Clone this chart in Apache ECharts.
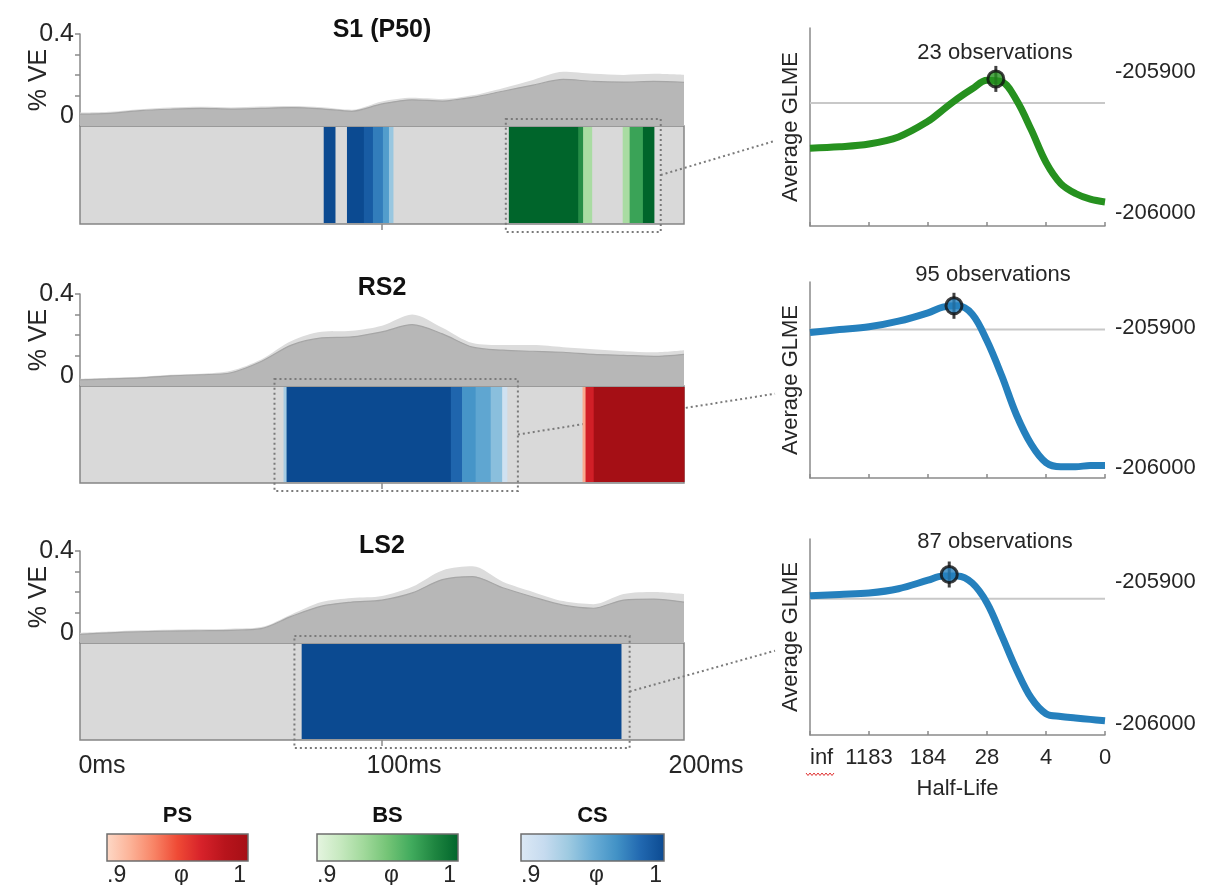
<!DOCTYPE html>
<html>
<head>
<meta charset="utf-8">
<script src="https://cdn.jsdelivr.net/npm/echarts@6/dist/echarts.min.js"></script>
<style>
html, body { margin: 0; padding: 0; background: #fff; }
#fig { width: 1212px; height: 885px; }
</style>
</head>
<body>
<div id="fig"></div>
<script>
// ---- % variance explained traces (ms) ----
var timeMs = [0, 10, 20, 30, 40, 50, 60, 70, 80, 90, 100, 110, 120, 130, 140, 150, 160, 170, 180, 190, 200]
var veS1 = [0.008, 0.012, 0.025, 0.032, 0.036, 0.033, 0.036, 0.040, 0.034, 0.022, 0.058, 0.078, 0.072, 0.090, 0.120, 0.150, 0.178, 0.168, 0.165, 0.168, 0.163]
var veS1Upper = [0.016, 0.020, 0.032, 0.040, 0.044, 0.041, 0.045, 0.048, 0.042, 0.030, 0.070, 0.088, 0.082, 0.100, 0.135, 0.175, 0.215, 0.205, 0.200, 0.205, 0.200]
var veRS2 = [-0.020, -0.015, -0.010, 0.000, 0.005, 0.015, 0.070, 0.150, 0.185, 0.190, 0.215, 0.250, 0.205, 0.140, 0.125, 0.120, 0.115, 0.105, 0.100, 0.095, 0.105]
var veRS2Upper = [-0.015, -0.010, -0.005, 0.005, 0.010, 0.025, 0.080, 0.170, 0.215, 0.220, 0.245, 0.300, 0.235, 0.160, 0.150, 0.150, 0.140, 0.130, 0.120, 0.115, 0.125]
var veLS2 = [-0.008, 0.000, 0.005, 0.008, 0.010, 0.012, 0.020, 0.080, 0.130, 0.150, 0.160, 0.195, 0.260, 0.275, 0.220, 0.175, 0.135, 0.120, 0.160, 0.165, 0.150]
var veLS2Upper = [0.000, 0.006, 0.012, 0.015, 0.017, 0.020, 0.028, 0.090, 0.150, 0.170, 0.180, 0.225, 0.305, 0.325, 0.250, 0.200, 0.155, 0.140, 0.190, 0.200, 0.190]
var veTickLabels = [0, 0.4]
var timeLabelPos = [0, 100, 200]
var timeLabels = ['0ms', '100ms', '200ms']

// ---- phi strips: [startMs, endMs, phi] ----
var stripS1CS = [[80.7, 84.4, 1.0], [88.4, 94.0, 1.0], [94.0, 97.0, 0.99], [97.0, 100.3, 0.975], [100.3, 102.3, 0.96], [102.3, 103.6, 0.935]]
var stripS1BS = [[142.0, 165.0, 1.0], [165.0, 166.6, 0.98], [166.6, 169.4, 0.93], [179.7, 182.0, 0.93], [182.0, 186.4, 0.97], [186.4, 190.0, 1.0]]
var stripRS2CS = [[67.4, 68.4, 0.93], [68.4, 122.8, 1.0], [122.8, 126.5, 0.985], [126.5, 131.0, 0.965], [131.0, 136.0, 0.955], [136.0, 139.8, 0.94], [139.8, 141.3, 0.91]]
var stripRS2PS = [[166.4, 167.4, 0.92], [167.4, 170.1, 0.97], [170.1, 200.0, 1.0]]
var stripLS2CS = [[73.4, 179.1, 1.0]]
// dotted selection windows [startMs, endMs]
var windowS1 = [141.0, 192.3]
var windowRS2 = [64.4, 145.0]
var windowLS2 = [71.0, 182.0]

// ---- half-life fits ----
var halfLifeLabels = ['inf', '1183', '184', '28', '4', '0']
var halfLifePos = [0, 0.5, 1, 1.5, 2, 2.25, 2.5, 2.75, 3, 3.25, 3.5, 3.75, 4, 4.25, 4.5, 4.75, 5]
var glmeS1 = [-205954, -205953, -205951, -205946, -205935, -205927, -205919, -205912, -205906, -205907, -205920, -205941, -205964, -205979, -205986, -205990, -205992]
var glmeRS2 = [-205903, -205901, -205899, -205895, -205889, -205885, -205884, -205890, -205909, -205934, -205962, -205983, -205996, -205999, -205999, -205998, -205998]
var glmeLS2 = [-205910, -205909, -205908, -205905, -205899, -205896, -205896, -205901, -205915, -205938, -205962, -205982, -205993, -205995, -205996, -205997, -205998]
var peakS1 = [3.15, -205905]
var peakRS2 = [2.44, -205884]
var peakLS2 = [2.36, -205895]
var refS1 = -205922
var refRS2 = -205901
var refLS2 = -205912
var glmeTickLabels = [-205900, -206000]
var obsCounts = [23, 95, 87]

var SANS = '"Liberation Sans", Arial, sans-serif'
var TXT = '#262626'
var AXC = '#8a8a8a'

var colorMaps = {
    PS: ['#fdd9c7', '#fcb398', '#f88466', '#ef4a35', '#d7222a', '#b8141c', '#a50f15'],
    BS: ['#e6f5e1', '#c7e9c0', '#a1d99b', '#74c476', '#41ab5d', '#1e8540', '#00652b'],
    CS: ['#dce9f5', '#c6dbef', '#9ecae1', '#6baed6', '#4292c6', '#2168b0', '#0b4a91']
}

function hexRgb(h) {
    return [parseInt(h.substr(1, 2), 16), parseInt(h.substr(3, 2), 16), parseInt(h.substr(5, 2), 16)]
}
function colorAt(stops, phi) {
    var t = Math.max(0, Math.min(1, (phi - 0.9) / 0.1)) * (stops.length - 1)
    var i = Math.min(Math.floor(t), stops.length - 2)
    var f = t - i
    var a = hexRgb(stops[i]), b = hexRgb(stops[i + 1])
    return 'rgb(' + [0, 1, 2].map(function (j) { return Math.round(a[j] + (b[j] - a[j]) * f) }).join(',') + ')'
}
function zip(xs, ys) {
    return xs.map(function (x, i) { return [x, ys[i]] })
}

// layout of the three rows
var boxTop = [126, 386, 643]
var boxH = [98, 97, 97]
var veH = 92
var rightTop = [28, 282, 539]
var rightH = [198, 196, 196]
var glmeRange = [[-206009, -205869], [-206007, -205867], [-206008, -205870]]

var panels = [
    { title: 'S1 (P50)', ve: veS1, veUp: veS1Upper, strips: [[stripS1CS, 'CS'], [stripS1BS, 'BS']], win: windowS1, glme: glmeS1, peak: peakS1, ref: refS1, color: '#26911f' },
    { title: 'RS2', ve: veRS2, veUp: veRS2Upper, strips: [[stripRS2CS, 'CS'], [stripRS2PS, 'PS']], win: windowRS2, glme: glmeRS2, peak: peakRS2, ref: refRS2, color: '#2580bd' },
    { title: 'LS2', ve: veLS2, veUp: veLS2Upper, strips: [[stripLS2CS, 'CS']], win: windowLS2, glme: glmeLS2, peak: peakLS2, ref: refLS2, color: '#2580bd' }
]

var grid = [], xAxis = [], yAxis = [], series = []
var leftGrids = [], boxGrids = [], rightGrids = []

panels.forEach(function (p, k) {
    leftGrids.push({ left: 80, width: 604, top: boxTop[k] - veH, height: veH })
    boxGrids.push({ left: 80, width: 604, top: boxTop[k], height: boxH[k], show: true, backgroundColor: '#d9d9d9', borderColor: '#858585', borderWidth: 1.5 })
    rightGrids.push({ left: 810, right: 107, top: rightTop[k], height: rightH[k] })
})
grid = leftGrids.concat(boxGrids, rightGrids)

// x axes: 0-2 area, 3-5 strip, 6-8 half-life
panels.forEach(function (p, k) {
    xAxis.push({ gridIndex: k, type: 'value', min: 0, max: 200, show: false })
})
panels.forEach(function (p, k) {
    xAxis.push({
        gridIndex: 3 + k, type: 'value', min: 0, max: 200,
        axisLine: { show: false },
        axisTick: { show: true, customValues: [100], length: 6, lineStyle: { color: AXC, width: 1.5 } },
        axisLabel: {
            show: k === 2, customValues: timeLabelPos,
            formatter: function (v) { return timeLabels[timeLabelPos.indexOf(v)] },
            fontFamily: SANS, fontSize: 25, color: TXT, margin: 14, align: 'center', padding: [0, 0, 0, 44]
        },
        splitLine: { show: false }
    })
})
panels.forEach(function (p, k) {
    xAxis.push({
        gridIndex: 6 + k, type: 'value', min: 0, max: 5, interval: 1,
        axisLine: { onZero: false, lineStyle: { color: AXC, width: 1.5 } },
        axisTick: { inside: true, length: 4, lineStyle: { color: AXC, width: 1.5 } },
        axisLabel: {
            show: k === 2, formatter: function (v) { return halfLifeLabels[v] },
            fontFamily: SANS, fontSize: 22, color: TXT, margin: 12, alignMinLabel: 'left'
        },
        splitLine: { show: false },
        name: k === 2 ? 'Half-Life' : '', nameLocation: 'middle', nameGap: 43,
        nameTextStyle: { fontFamily: SANS, fontSize: 22, color: TXT }
    })
})

// y axes: 0-2 area, 3-5 strip, 6-8 left GLME, 9-11 right GLME labels
panels.forEach(function (p, k) {
    yAxis.push({
        gridIndex: k, type: 'value', min: -0.05, max: 0.4,
        axisLine: { show: true, lineStyle: { color: AXC, width: 1.5 } },
        axisTick: { show: true, customValues: [0.1, 0.2, 0.3, 0.4], length: 5, lineStyle: { color: AXC, width: 1.5 } },
        axisLabel: { customValues: veTickLabels, formatter: function (v) { return String(v) }, fontFamily: SANS, fontSize: 25, color: TXT, margin: 6 },
        splitLine: { show: false },
        name: '% VE', nameLocation: 'middle', nameGap: 28, nameMoveOverlap: false,
        nameTextStyle: { fontFamily: SANS, fontSize: 25, color: TXT }
    })
})
panels.forEach(function (p, k) {
    yAxis.push({ gridIndex: 3 + k, type: 'value', min: 0, max: 1, show: false })
})
panels.forEach(function (p, k) {
    yAxis.push({
        gridIndex: 6 + k, type: 'value', position: 'left', min: glmeRange[k][0], max: glmeRange[k][1],
        axisLine: { show: true, lineStyle: { color: AXC, width: 1.5 } },
        axisTick: { show: false }, axisLabel: { show: false }, splitLine: { show: false },
        name: 'Average GLME', nameLocation: 'middle', nameGap: 8, nameMoveOverlap: false,
        nameTextStyle: { fontFamily: SANS, fontSize: 22, color: TXT }
    })
})
panels.forEach(function (p, k) {
    yAxis.push({
        gridIndex: 6 + k, type: 'value', position: 'right', min: glmeRange[k][0], max: glmeRange[k][1],
        axisLine: { show: false }, axisTick: { show: false }, splitLine: { show: false },
        axisLabel: { customValues: glmeTickLabels, formatter: function (v) { return String(v) }, fontFamily: SANS, fontSize: 22, color: TXT, margin: 10 }
    })
})

function stripRender(mapName) {
    return function (params, api) {
        var a = api.coord([api.value(0), 1])
        var b = api.coord([api.value(1), 0])
        return {
            type: 'rect',
            shape: { x: a[0], y: a[1] + 1, width: b[0] - a[0] + 0.6, height: b[1] - a[1] - 2 },
            style: { fill: colorAt(colorMaps[mapName], api.value(2)) }
        }
    }
}
function windowRender(params, api) {
    var a = api.coord([api.value(0), 1])
    var b = api.coord([api.value(1), 0])
    return {
        type: 'rect',
        shape: { x: a[0], y: a[1] - 7, width: b[0] - a[0], height: b[1] - a[1] + 15 },
        style: { fill: 'none', stroke: '#7a7a7a', lineWidth: 2, lineDash: [2, 3] }
    }
}

panels.forEach(function (p, k) {
    // variance explained areas
    series.push({
        type: 'line', xAxisIndex: k, yAxisIndex: k, data: zip(timeMs, p.veUp), showSymbol: false, smooth: 0.3,
        lineStyle: { width: 0 }, areaStyle: { color: '#dcdcdc', opacity: 1, origin: 'start' }, z: 1
    })
    series.push({
        type: 'line', xAxisIndex: k, yAxisIndex: k, data: zip(timeMs, p.ve), showSymbol: false, smooth: 0.3,
        lineStyle: { width: 1.2, color: '#a6a6a6' }, areaStyle: { color: '#b7b7b7', opacity: 1, origin: 'start' }, z: 2
    })
    // phi strips
    p.strips.forEach(function (s) {
        series.push({ type: 'custom', xAxisIndex: 3 + k, yAxisIndex: 3 + k, data: s[0], renderItem: stripRender(s[1]), z: 3 })
    })
    series.push({ type: 'custom', xAxisIndex: 3 + k, yAxisIndex: 3 + k, data: [p.win], renderItem: windowRender, z: 4 })
    // half-life curve
    series.push({
        type: 'line', xAxisIndex: 6 + k, yAxisIndex: 6 + k, data: [[0, p.ref], [5, p.ref]], showSymbol: false,
        lineStyle: { color: '#c8c8c8', width: 2 }, z: 1
    })
    series.push({
        type: 'line', xAxisIndex: 6 + k, yAxisIndex: 6 + k, data: zip(halfLifePos, p.glme), smooth: 0.35, showSymbol: false,
        lineStyle: { color: p.color, width: 7 }, z: 3
    })
    series.push({
        type: 'scatter', xAxisIndex: 6 + k, yAxisIndex: 6 + k, data: [p.peak], symbol: 'rect', symbolSize: [3, 26],
        itemStyle: { color: '#111' }, z: 4
    })
    series.push({
        type: 'scatter', xAxisIndex: 6 + k, yAxisIndex: 6 + k, data: [p.peak], symbol: 'circle', symbolSize: 16,
        itemStyle: { color: p.color, borderColor: '#111', borderWidth: 3 }, z: 5
    })
})

// text + colour bars
var graphic = []
var titleY = [30, 288, 546]
var obsPos = [[995, 53], [993, 275], [995, 542]]
panels.forEach(function (p, k) {
    graphic.push({ type: 'text', id: 't' + k, x: 382, y: titleY[k], style: { text: p.title, font: 'bold 25px ' + SANS, fill: '#111', textAlign: 'center', textVerticalAlign: 'middle' } })
    graphic.push({ type: 'text', id: 'o' + k, x: obsPos[k][0], y: obsPos[k][1], style: { text: obsCounts[k] + ' observations', font: '22px ' + SANS, fill: TXT, textAlign: 'center', textVerticalAlign: 'middle' } })
})
var bars = [['PS', 107, 141], ['BS', 317, 141], ['CS', 521, 143]]
bars.forEach(function (b) {
    var stops = colorMaps[b[0]].map(function (c, i, arr) { return { offset: i / (arr.length - 1), color: c } })
    graphic.push({ type: 'text', id: 'cbt' + b[0], x: b[1] + b[2] / 2, y: 816, style: { text: b[0], font: 'bold 22px ' + SANS, fill: '#111', textAlign: 'center', textVerticalAlign: 'middle' } })
    graphic.push({ type: 'rect', id: 'cb' + b[0], shape: { x: b[1], y: 834, width: b[2], height: 27 }, style: { fill: new echarts.graphic.LinearGradient(0, 0, 1, 0, stops), stroke: '#6e6e6e', lineWidth: 1.5 } })
    graphic.push({ type: 'text', id: 'cbl' + b[0], x: b[1], y: 876, style: { text: '.9', font: '23px ' + SANS, fill: TXT, textAlign: 'left', textVerticalAlign: 'middle' } })
    graphic.push({ type: 'text', id: 'cbm' + b[0], x: b[1] + b[2] / 2 + 4, y: 876, style: { text: 'φ', font: '23px ' + SANS, fill: TXT, textAlign: 'center', textVerticalAlign: 'middle' } })
    graphic.push({ type: 'text', id: 'cbr' + b[0], x: b[1] + b[2] - 2, y: 876, style: { text: '1', font: '23px ' + SANS, fill: TXT, textAlign: 'right', textVerticalAlign: 'middle' } })
})
// spell-check squiggle under "inf"
var squiggle = []
for (var sx = 806; sx <= 834; sx += 2) squiggle.push([sx, sx % 4 === 2 ? 773 : 775.5])
graphic.push({ type: 'polyline', id: 'sq', shape: { points: squiggle }, style: { stroke: '#e03030', lineWidth: 1, fill: null } })

var chart = echarts.init(document.getElementById('fig'))
chart.setOption({
    animation: false,
    backgroundColor: '#ffffff',
    grid: grid,
    xAxis: xAxis,
    yAxis: yAxis,
    series: series,
    graphic: graphic
})

// dotted connectors from selection windows to the half-life panels
var connectors = panels.map(function (p, k) {
    var s = chart.convertToPixel({ xAxisIndex: 3 + k, yAxisIndex: 3 + k }, [p.win[1], 0.5])
    var e = [775, rightTop[k] + rightH[k] * 0.57]
    return { type: 'line', id: 'c' + k, shape: { x1: s[0], y1: s[1], x2: e[0], y2: e[1] }, style: { stroke: '#7a7a7a', lineWidth: 2, lineDash: [2, 3] } }
})
chart.setOption({ graphic: connectors })
</script>
</body>
</html>
